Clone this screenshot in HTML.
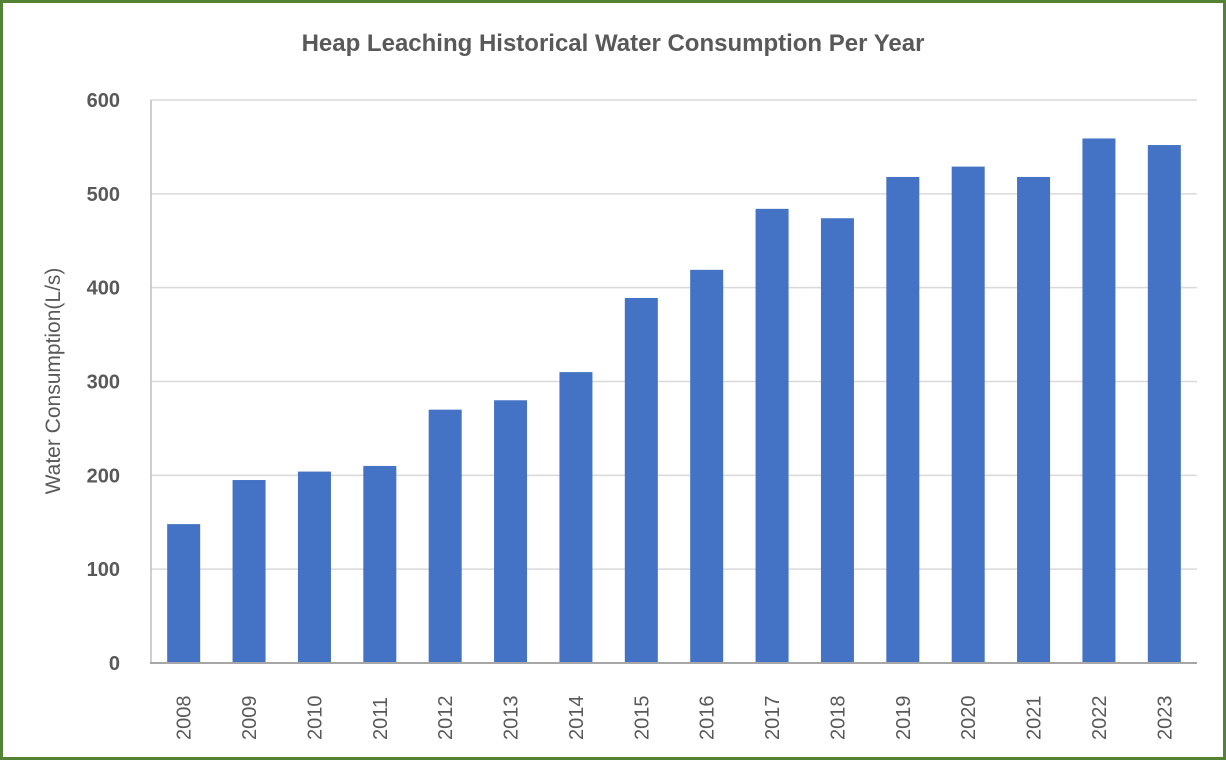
<!DOCTYPE html>
<html><head><meta charset="utf-8"><style>
html,body{margin:0;padding:0;background:#fff}
svg{display:block;font-family:"Liberation Sans",sans-serif}
</style></head><body>
<svg width="1226" height="760" viewBox="0 0 1226 760">
<rect x="1.5" y="1.5" width="1223" height="757" fill="#fff" stroke="#548235" stroke-width="3"/>
<text x="613" y="51" text-anchor="middle" font-size="24" font-weight="bold" fill="#595959">Heap Leaching Historical Water Consumption Per Year</text>
<text transform="translate(60,381) rotate(-90)" text-anchor="middle" font-size="21" fill="#595959">Water Consumption(L/s)</text>
<g id="grid"></g><g id="bars"></g><g id="ylab"></g><g id="xlab"></g>
<line x1="151" y1="100" x2="151" y2="663" stroke="#bfbfbf" stroke-width="1.5"/>
<line x1="150" y1="663" x2="1197" y2="663" stroke="#a6a6a6" stroke-width="2"/>
</svg>
<script>
const years=["2008","2009","2010","2011","2012","2013","2014","2015","2016","2017","2018","2019","2020","2021","2022","2023"];
const values=[148,195,204,210,270,280,310,389,419,484,474,518,529,518,559,552];
const yTicks=[0,100,200,300,400,500,600];
const NS="http://www.w3.org/2000/svg";
const L=151,R=1197,T=100,B=663,YMAX=600;
const y=v=>B-(v/YMAX)*(B-T);
const bw=(R-L)/years.length;
const x=i=>L+bw*(i+0.5);
function mk(t,a){const e=document.createElementNS(NS,t);for(const k in a)e.setAttribute(k,a[k]);return e;}
const g=document.getElementById('grid'),yl=document.getElementById('ylab');
yTicks.forEach(v=>{
 const ln=mk('line',{x1:L,x2:R,y1:y(v),y2:y(v),stroke:'#d9d9d9','stroke-width':1.5});
 
 
 g.appendChild(ln);
 const t=mk('text',{x:120,y:y(v)+7,'text-anchor':'end','font-size':20,'font-weight':'bold',fill:'#595959'});
 t.textContent=v;
 
 
 yl.appendChild(t);
});
const bg=document.getElementById('bars'),xl=document.getElementById('xlab');
years.forEach((yr,i)=>{
 const r=mk('rect',{x:x(i)-16.5,y:y(values[i]),width:33,height:B-y(values[i]),fill:'#4472c4'});
 
 
 bg.appendChild(r);
 const t=mk('text',{transform:`translate(${x(i)+7},740) rotate(-90)`,'font-size':20,fill:'#595959'});
 t.textContent=yr;
 
 
 xl.appendChild(t);
});
</script>
</body></html>
